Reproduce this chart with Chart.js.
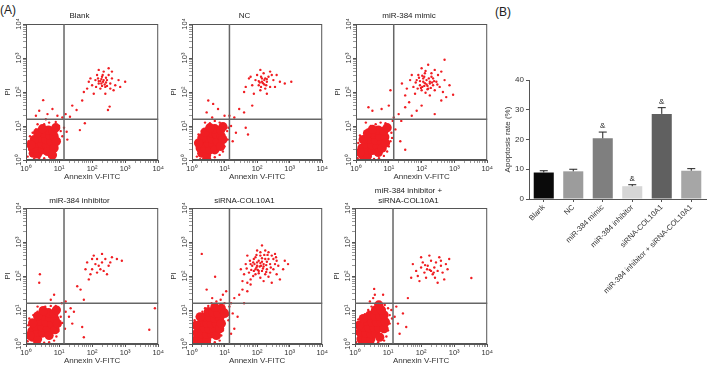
<!DOCTYPE html>
<html>
<head>
<meta charset="utf-8">
<script src="https://cdn.jsdelivr.net/npm/chart.js@4.4.1/dist/chart.umd.min.js"></script>
<style>
  body { margin: 0; background: #fff; font-family: "Liberation Sans", Arial, sans-serif; }
  #page { position: relative; width: 707px; height: 365px; overflow: hidden; }
  .box { position: absolute; }
  .tag { position: absolute; font-size: 12px; color: #222; line-height: 14px; }
</style>
</head>
<body>
<div id="page">
  <div class="tag" style="left:0;top:3px">(A)</div>
  <div class="tag" style="left:495px;top:5px">(B)</div>
  <div class="box" style="left:0;top:0;width:165px;height:182px"><canvas id="p1"></canvas></div>
  <div class="box" style="left:166px;top:0;width:163px;height:182px"><canvas id="p2"></canvas></div>
  <div class="box" style="left:330px;top:0;width:164px;height:182px"><canvas id="p3"></canvas></div>
  <div class="box" style="left:0;top:184px;width:165px;height:182px"><canvas id="p4"></canvas></div>
  <div class="box" style="left:166px;top:184px;width:163px;height:182px"><canvas id="p5"></canvas></div>
  <div class="box" style="left:329px;top:184px;width:165px;height:182px"><canvas id="p6"></canvas></div>
  <div class="box" style="left:498px;top:70px;width:209px;height:239px"><canvas id="bars"></canvas></div>
</div>
<script>
// -------- Flow cytometry data (log10 units: Annexin V-FITC, PI) --------
const decades = [0, 1, 2, 3, 4];
const sup = ['\u2070', '\u00b9', '\u00b2', '\u00b3', '\u2074'];
const gateX = 1.15;
const gateY = 1.2;

const blankCore = [[0.22,0.2],[0.35,0.18],[0.2,0.35],[0.35,0.35],[0.5,0.3],[0.3,0.5],[0.48,0.48],[0.62,0.42],[0.42,0.65],[0.6,0.6],[0.75,0.55],[0.55,0.78],[0.72,0.72],[0.85,0.7],[0.68,0.88],[0.82,0.85],[0.25,0.6],[0.65,0.25],[0.15,0.45],[0.9,0.95],[0.85,0.35],[0.92,0.55],[0.35,0.8],[0.5,0.92],[0.8,0.15]];
const blankDots = [[0.05,0.1],[0.1,0.3],[0.08,0.55],[0.12,0.7],[0.2,0.8],[0.3,0.9],[0.45,0.95],[0.55,1.05],[0.7,1.1],[0.9,1.12],[1.0,1.0],[1.05,0.85],[1.0,0.6],[0.95,0.45],[0.9,0.3],[0.8,0.2],[0.7,0.1],[0.55,0.05],[0.4,0.03],[0.25,0.05],[1.1,0.7],[1.15,0.95],[0.6,1.2],[0.35,1.05],
  [0.52,1.76],[0.4,1.45],[0.3,1.3],[0.65,1.35],[0.95,1.3],[1.1,1.25],[1.2,1.35],[1.33,1.27],[1.53,1.47],[1.23,0.83],[1.63,0.88],[1.78,1.08],[1.4,1.6],[1.7,1.75],[1.25,0.6],[2.48,1.47],[2.53,1.57],[0.8,1.5],
  [2.33,2.3],[2.2,2.25],[2.45,2.35],[2.3,2.45],[2.4,2.15],[2.1,2.35],[2.55,2.25],[2.25,2.1],[2.15,2.5],[2.5,2.5],[2.6,2.4],[2.35,2.6],[2.0,2.2],[1.95,2.4],[1.85,2.1],[2.7,2.2],[2.8,2.35],[3.0,2.3],[2.65,2.05],[2.05,1.95],[1.75,2.0],[2.4,1.95],[2.2,2.65],[2.5,2.7],[2.28,2.38],[2.38,2.22],[2.18,2.4],[2.42,2.42],[2.3,2.18],[2.12,2.15],[2.55,2.1],[1.9,2.3],[2.6,2.6],[2.85,2.15],
  [2.25,2.32],[2.35,2.35],[2.42,2.28],[2.28,2.25],[2.2,2.32],[2.32,2.5],[2.45,2.18]];

const ncCore = [[0.3,0.2],[0.45,0.15],[0.25,0.35],[0.4,0.35],[0.55,0.3],[0.35,0.5],[0.5,0.5],[0.65,0.45],[0.45,0.65],[0.62,0.62],[0.78,0.55],[0.58,0.8],[0.75,0.75],[0.9,0.7],[0.7,0.92],[0.88,0.88],[0.3,0.65],[0.7,0.3],[0.2,0.5],[0.95,0.98],[0.88,0.4],[0.95,0.6],[0.4,0.82],[0.55,0.95]];
const ncDots = [[0.15,0.1],[0.18,0.3],[0.15,0.55],[0.2,0.75],[0.3,0.85],[0.45,0.95],[0.55,1.08],[0.7,1.15],[0.85,1.1],[1.0,1.05],[1.08,0.85],[1.1,0.6],[1.0,0.4],[0.95,0.25],[0.85,0.15],[0.7,0.08],[0.55,0.05],[0.35,0.05],[0.25,0.02],[1.12,0.95],[0.4,1.1],[0.62,1.25],
  [0.5,1.75],[0.65,1.65],[0.45,1.4],[0.8,1.5],[1.15,1.3],[1.3,1.25],[1.45,1.5],[1.6,1.4],[1.2,1.0],[1.35,0.8],[1.65,0.95],[1.72,0.75],[1.25,0.55],[1.0,1.3],[1.85,1.6],
  [2.18,2.26],[2.05,2.2],[2.3,2.3],[2.15,2.4],[2.25,2.1],[1.95,2.35],[2.4,2.15],[2.1,2.05],[2.0,2.5],[2.35,2.45],[2.5,2.35],[2.2,2.55],[1.85,2.2],[1.75,2.4],[1.65,2.15],[2.55,2.15],[2.7,2.3],[3.05,2.3],[2.85,2.25],[1.9,1.95],[1.6,2.0],[2.3,1.95],[2.1,2.65],[2.4,2.6],[2.22,2.35],[2.12,2.15],[2.28,2.2],[2.05,2.32],[2.45,2.5],[1.8,2.45],[2.6,2.5],
  [2.15,2.3],[2.22,2.22],[2.08,2.28],[2.25,2.4],[2.12,2.45],[2.3,2.38]];

const mimicCore = [[0.2,0.15],[0.35,0.12],[0.18,0.35],[0.35,0.3],[0.5,0.28],[0.3,0.48],[0.48,0.45],[0.65,0.4],[0.42,0.62],[0.6,0.58],[0.78,0.52],[0.55,0.75],[0.72,0.7],[0.88,0.68],[0.68,0.88],[0.85,0.85],[0.22,0.6],[0.68,0.22],[0.12,0.22],[0.95,0.95],[0.8,0.35],[0.9,0.5],[0.35,0.78],[0.5,0.9]];
const mimicDots = [[0.05,0.05],[0.08,0.3],[0.07,0.5],[0.12,0.72],[0.25,0.8],[0.35,0.9],[0.45,1.0],[0.6,1.05],[0.75,1.1],[0.9,1.08],[1.02,1.0],[1.08,0.8],[1.05,0.55],[1.0,0.4],[0.95,0.25],[0.85,0.12],[0.7,0.05],[0.55,0.03],[0.4,0.02],[0.25,0.03],[1.1,0.65],[1.12,1.15],[0.3,1.1],
  [0.38,1.55],[0.5,1.45],[0.78,1.5],[1.05,2.05],[1.0,1.6],[1.15,1.25],[1.3,1.35],[1.38,1.15],[1.5,1.55],[1.62,1.7],[1.2,0.9],[1.35,0.55],[1.5,0.3],[1.7,1.3],[1.85,1.45],[2.0,1.6],[2.4,1.35],[2.6,1.75],[2.7,2.95],[2.96,1.92],
  [2.1,2.26],[1.95,2.2],[2.25,2.3],[2.05,2.4],[2.2,2.1],[1.85,2.35],[2.35,2.2],[2.0,2.05],[1.9,2.5],[2.3,2.45],[2.45,2.3],[2.1,2.55],[1.75,2.15],[1.65,2.35],[1.55,2.1],[2.55,2.15],[2.7,2.35],[2.85,2.2],[2.65,2.0],[1.8,1.95],[1.5,1.9],[2.25,1.9],[2.0,2.7],[2.4,2.65],[2.15,2.35],[2.02,2.15],[2.18,2.18],[1.95,2.32],[2.35,2.4],[1.7,2.5],[2.5,2.5],[2.6,2.6],[2.2,2.8],[1.4,2.25],[2.75,1.85],[2.12,1.98],[2.28,2.12],[1.88,2.1],[2.08,2.45],[2.4,2.05],
  [2.05,2.3],[2.15,2.22],[2.22,2.4],[1.98,2.12],[2.32,2.28],[2.08,2.18],[2.25,2.25],[1.92,2.42],[2.18,2.08],[2.38,2.32],[2.02,2.48],[2.3,2.55],[1.82,2.28],[2.48,2.22],[2.12,2.62]];

const inhibCore = [[0.2,0.2],[0.35,0.15],[0.18,0.38],[0.35,0.35],[0.5,0.32],[0.3,0.52],[0.48,0.5],[0.65,0.45],[0.42,0.68],[0.6,0.65],[0.78,0.58],[0.55,0.82],[0.72,0.78],[0.88,0.72],[0.68,0.92],[0.85,0.9],[0.2,0.62],[0.7,0.25],[0.12,0.25],[0.92,1.0],[0.88,0.42],[0.35,0.82],[0.52,0.98],[0.95,0.6]];
const inhibDots = [[0.05,0.08],[0.08,0.35],[0.07,0.55],[0.1,0.75],[0.22,0.85],[0.35,0.95],[0.45,1.05],[0.58,1.1],[0.75,1.12],[0.9,1.12],[1.0,1.0],[1.05,0.8],[1.02,0.55],[0.98,0.38],[0.92,0.22],[0.85,0.1],[0.7,0.05],[0.55,0.04],[0.4,0.05],[0.25,0.06],[1.1,0.62],[0.35,1.1],[1.08,1.2],
  [0.42,2.05],[0.4,1.8],[0.75,1.3],[0.85,1.45],[1.2,1.25],[1.55,1.7],[1.65,1.6],[1.75,1.3],[1.35,1.05],[1.2,0.95],[1.3,0.8],[1.45,0.95],[1.4,0.6],[1.7,0.5],[3.73,0.42],[3.9,1.05],[1.75,0.2],[1.18,0.45],
  [2.0,2.2],[2.1,2.35],[2.2,2.3],[2.3,2.4],[2.25,2.2],[2.4,2.5],[2.5,2.3],[2.15,2.5],[1.85,2.4],[2.0,2.5],[2.35,2.15],[2.6,2.55],[2.75,2.5],[2.9,2.45],[1.95,2.05],[2.45,2.05],[2.3,2.65],[1.8,2.2],[2.55,2.4],[2.15,2.1],[1.9,1.9],[2.05,2.6]];

const sirnaCore = [[0.15,0.15],[0.3,0.12],[0.45,0.12],[0.15,0.32],[0.3,0.3],[0.45,0.28],[0.6,0.3],[0.22,0.48],[0.38,0.47],[0.52,0.45],[0.68,0.45],[0.3,0.65],[0.45,0.62],[0.6,0.6],[0.75,0.6],[0.4,0.8],[0.55,0.78],[0.7,0.75],[0.85,0.75],[0.5,0.95],[0.65,0.92],[0.8,0.9],[0.9,1.05],[0.7,1.08],[0.12,0.55],[0.75,0.25],[0.85,0.45],[0.9,0.6],[0.25,0.8],[1.0,0.9]];
const sirnaDots = [[0.03,0.05],[0.05,0.3],[0.04,0.5],[0.08,0.7],[0.15,0.8],[0.25,0.85],[0.32,0.95],[0.4,1.05],[0.5,1.12],[0.6,1.2],[0.75,1.25],[0.88,1.3],[1.0,1.2],[1.05,1.0],[1.1,0.85],[1.0,0.6],[0.95,0.4],[0.9,0.25],[0.85,0.1],[0.7,0.05],[0.55,0.03],[0.35,0.02],[0.2,0.03],[1.12,0.7],[1.15,1.1],[0.62,1.35],[0.95,1.45],
  [0.3,2.65],[0.71,1.98],[1.2,1.2],[1.3,1.35],[1.45,1.45],[1.25,0.9],[1.4,0.8],[1.3,0.45],[1.55,1.6],[1.7,1.55],[1.2,0.3],[1.05,1.55],[1.6,1.2],[1.8,1.75],[0.45,1.6],
  [2.08,2.28],[1.95,2.2],[2.2,2.35],[2.0,2.4],[2.15,2.15],[1.85,2.3],[2.3,2.2],[1.95,2.05],[1.9,2.5],[2.25,2.5],[2.4,2.35],[2.1,2.6],[1.75,2.1],[1.65,2.35],[1.6,2.05],[2.5,2.2],[2.65,2.3],[2.8,2.2],[2.6,2.05],[1.8,1.9],[1.55,1.85],[2.2,1.85],[2.0,2.75],[2.35,2.7],[2.12,2.3],[2.02,2.18],[2.18,2.22],[1.92,2.35],[2.3,2.42],[1.7,2.6],[2.5,2.5],[2.55,2.65],[2.15,2.9],[1.5,2.2],[2.7,1.9],[2.1,1.95],[2.25,2.05],[1.82,2.18],[2.05,2.45],[2.4,2.1],[2.85,2.45],[2.95,2.35],[1.7,1.8],[2.45,1.8],[1.98,2.62],[2.22,2.62],[2.6,2.45],[2.0,2.3],[2.15,2.42],[1.88,2.0],[2.35,1.98],[2.05,2.08],[1.78,2.45],[2.45,2.6],[2.25,2.75],
  [2.1,2.38],[2.2,2.28],[1.98,2.25],[2.28,2.32],[2.05,2.15],[1.88,2.4],[2.35,2.5],[2.15,2.52],[1.95,2.55],[2.42,2.25],[2.28,2.12],[1.8,2.35],[2.55,2.35],[2.1,2.7],[1.68,2.22],[2.58,2.55],[2.32,2.62],[1.9,2.15]];

const comboCore = [[0.18,0.15],[0.33,0.12],[0.48,0.15],[0.15,0.35],[0.32,0.32],[0.48,0.3],[0.62,0.32],[0.25,0.5],[0.42,0.48],[0.58,0.48],[0.72,0.48],[0.35,0.68],[0.5,0.65],[0.65,0.65],[0.8,0.65],[0.45,0.85],[0.6,0.82],[0.75,0.82],[0.88,0.85],[0.62,1.0],[0.8,1.0],[0.12,0.55],[0.75,0.2],[0.88,0.45],[0.25,0.75],[0.92,0.65],[0.72,1.15]];
const comboDots = [[0.03,0.05],[0.05,0.3],[0.05,0.55],[0.1,0.72],[0.2,0.8],[0.3,0.88],[0.4,1.0],[0.5,1.1],[0.62,1.18],[0.75,1.2],[0.9,1.15],[1.0,1.05],[1.05,0.85],[1.05,0.6],[1.0,0.4],[0.95,0.22],[0.88,0.1],[0.7,0.05],[0.55,0.03],[0.4,0.02],[0.22,0.03],[1.12,0.75],[0.55,1.35],[0.58,1.62],[0.6,1.45],[0.45,1.25],[1.1,1.0],
  [1.2,0.8],[1.3,0.6],[1.25,1.1],[1.45,0.9],[1.35,0.3],[1.55,0.5],[0.85,1.45],[3.52,1.94],[1.6,1.35],
  [2.26,2.18],[2.1,2.1],[2.4,2.25],[2.2,2.3],[2.35,2.05],[2.0,2.25],[2.5,2.15],[2.15,1.95],[2.05,2.4],[2.45,2.4],[2.6,2.3],[2.3,2.45],[1.85,2.15],[1.75,2.35],[1.7,1.95],[2.65,2.1],[2.75,2.35],[2.85,2.5],[2.7,1.9],[1.95,1.85],[2.5,1.8],[2.25,2.6],[2.55,2.55],[2.3,2.15],[2.18,2.2],[2.38,2.1],[1.9,2.0],[2.6,2.45],[2.0,2.55],[2.42,1.95],[2.12,2.32],[2.8,2.2]];

// -------- Bar chart data --------
const groups = ['Blank', 'NC', 'miR-384 mimic', 'miR-384 inhibitor', 'siRNA-COL10A1', 'miR-384 inhibitor + siRNA-COL10A1'];
const apoptosis = [8.9, 9.3, 20.4, 4.3, 28.6, 9.5];
const apoptosisSem = [0.6, 0.7, 2.1, 0.5, 2.1, 0.7];
const sigMarks = ['', '', '&', '&', '&', ''];

const barColors = ['#0a0a0a', '#9c9c9c', '#7f7f7f', '#d6d6d6', '#606060', '#a6a6a6'];
const RED = '#f01e23';
const FONT = '"Liberation Sans", Arial, sans-serif';
Chart.defaults.font.family = FONT;

// minor tick positions for the log-decade axes
const logTicks = [];
for (let n = 0; n < 4; n++) {
  for (let k = 1; k < 10; k++) logTicks.push(n + Math.log10(k));
}
logTicks.push(4);

const toXY = arr => arr.map(p => ({ x: p[0], y: p[1] }));

// frame, quadrant gates and rotated y labels
const flowFrame = {
  id: 'flowFrame',
  afterDatasetsDraw(chart) {
    const { ctx, chartArea: a, scales: { x, y } } = chart;
    ctx.save();
    ctx.strokeStyle = '#555';
    ctx.lineWidth = 1;
    ctx.strokeRect(a.left + 0.5, a.top + 0.5, a.right - a.left - 1, a.bottom - a.top - 1);
    const gx = x.getPixelForValue(gateX);
    const gy = y.getPixelForValue(gateY);
    ctx.strokeStyle = '#666';
    ctx.lineWidth = 1.5;
    ctx.beginPath();
    ctx.moveTo(gx, a.top); ctx.lineTo(gx, a.bottom);
    ctx.moveTo(a.left, gy); ctx.lineTo(a.right, gy);
    ctx.stroke();
    ctx.fillStyle = '#333';
    ctx.font = '7.5px ' + FONT;
    ctx.textAlign = 'center';
    ctx.textBaseline = 'middle';
    decades.forEach(d => {
      ctx.save();
      ctx.translate(a.left - 7, y.getPixelForValue(d));
      ctx.rotate(-Math.PI / 2);
      ctx.fillText('10' + sup[d], 0, 0);
      ctx.restore();
    });
    ctx.restore();
  }
};

function logAxis(extra) {
  return Object.assign({
    type: 'linear',
    min: 0,
    max: 4,
    afterBuildTicks: s => { s.ticks = logTicks.map(v => ({ value: v })); },
    grid: {
      drawOnChartArea: false,
      tickLength: 3,
      tickColor: c => (c.tick && Number.isInteger(c.tick.value)) ? '#555' : '#999'
    },
    border: { color: '#555' }
  }, extra);
}

function makePanel(id, title, titlePad, core, dots) {
  new Chart(document.getElementById(id), {
    type: 'scatter',
    data: {
      datasets: [
        { data: toXY(core), backgroundColor: RED, pointRadius: 4.6, borderWidth: 0, clip: 0 },
        { data: toXY(dots), backgroundColor: RED, pointRadius: 1.2, borderWidth: 0, clip: 0 }
      ]
    },
    options: {
      responsive: true,
      maintainAspectRatio: false,
      animation: false,
      layout: { padding: { top: 0, right: 6, bottom: 0, left: 0 } },
      plugins: {
        legend: { display: false },
        tooltip: { enabled: false },
        title: {
          display: true,
          text: title,
          color: '#222',
          font: { size: 8, weight: 'normal', lineHeight: 1.25 },
          padding: titlePad
        }
      },
      scales: {
        x: logAxis({
          afterFit: s => { s.height = 22; },
          ticks: {
            autoSkip: false, maxRotation: 0, padding: 1, color: '#333', font: { size: 7.5 },
            callback: v => Number.isInteger(v) ? '10' + sup[v] : ''
          },
          title: { display: true, text: 'Annexin V-FITC', color: '#333', font: { size: 8 }, padding: 0 }
        }),
        y: logAxis({
          afterFit: s => { s.width = 26; },
          ticks: { display: false, autoSkip: false },
          title: { display: true, text: 'PI', color: '#333', font: { size: 8 }, padding: { top: 3, bottom: 0 } }
        })
      }
    },
    plugins: [flowFrame]
  });
}

const padTop = { top: 11, bottom: 3 };
const padLow = { top: 12, bottom: 2 };
makePanel('p1', 'Blank', padTop, blankCore, blankDots);
makePanel('p2', 'NC', padTop, ncCore, ncDots);
makePanel('p3', 'miR-384 mimic', padTop, mimicCore, mimicDots);
makePanel('p4', 'miR-384 inhibitor', padLow, inhibCore, inhibDots);
makePanel('p5', 'siRNA-COL10A1', padLow, sirnaCore, sirnaDots);
makePanel('p6', ['miR-384 inhibitor +', 'siRNA-COL10A1'], { top: 2, bottom: 2 }, comboCore, comboDots);

// -------- Bar chart with error bars --------
const errorBars = {
  id: 'errorBars',
  afterDatasetsDraw(chart) {
    const { ctx, scales: { y } } = chart;
    const meta = chart.getDatasetMeta(0);
    ctx.save();
    ctx.strokeStyle = '#222';
    ctx.lineWidth = 1;
    ctx.fillStyle = '#222';
    ctx.font = '8px ' + FONT;
    ctx.textAlign = 'center';
    ctx.textBaseline = 'bottom';
    meta.data.forEach((bar, i) => {
      const top = y.getPixelForValue(apoptosis[i]);
      const cap = y.getPixelForValue(apoptosis[i] + apoptosisSem[i]);
      ctx.beginPath();
      ctx.moveTo(bar.x, top); ctx.lineTo(bar.x, cap);
      ctx.moveTo(bar.x - 4, cap); ctx.lineTo(bar.x + 4, cap);
      ctx.stroke();
      if (sigMarks[i]) ctx.fillText(sigMarks[i], bar.x, cap - 2);
    });
    ctx.restore();
  }
};

new Chart(document.getElementById('bars'), {
  type: 'bar',
  data: {
    labels: groups,
    datasets: [{ data: apoptosis, backgroundColor: barColors, barPercentage: 0.68, categoryPercentage: 1 }]
  },
  options: {
    responsive: true,
    maintainAspectRatio: false,
    animation: false,
    layout: { padding: { top: 10, right: 1, bottom: 0, left: 0 } },
    plugins: { legend: { display: false }, tooltip: { enabled: false } },
    scales: {
      x: {
        afterFit: s => { s.height = 110; },
        ticks: { autoSkip: false, minRotation: 45, maxRotation: 45, padding: 1, color: '#333', font: { size: 7.5 } },
        grid: { drawOnChartArea: false, offset: false, tickLength: 3, tickColor: '#555' },
        border: { color: '#555' }
      },
      y: {
        min: 0,
        max: 40,
        afterFit: s => { s.width = 31; },
        ticks: { stepSize: 10, padding: 2, color: '#333', font: { size: 8 } },
        grid: { drawOnChartArea: false, tickLength: 3, tickColor: '#555' },
        border: { color: '#555' },
        title: { display: true, text: 'Apoptosis rate (%)', color: '#333', font: { size: 8 }, padding: { top: 5, bottom: 0 } }
      }
    }
  },
  plugins: [errorBars]
});
</script>
</body>
</html>
